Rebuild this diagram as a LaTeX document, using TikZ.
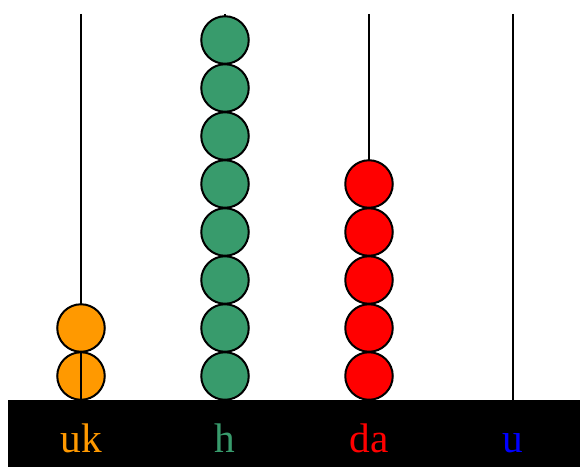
\documentclass[tikz,border=0pt]{standalone}
\usepackage{fontspec}
\setmainfont{Liberation Serif}
\definecolor{beadorange}{RGB}{255,153,0}
\definecolor{beadgreen}{RGB}{56,155,108}
\definecolor{beadred}{RGB}{255,0,0}
\definecolor{labelblue}{RGB}{0,0,255}
\begin{document}
\begin{tikzpicture}[x=0.75pt,y=-0.75pt,
  rod/.style={line width=1.2pt},
  bead/.style={circle,draw=black,line width=1.5pt,minimum size=47.5*0.75pt,inner sep=0pt},
  lbl/.style={font=\fontsize{31}{33}\selectfont,anchor=base}]
\useasboundingbox (0,0) rectangle (580,467);
% base
\fill[black] (8,400) rectangle (580,467);
% rods
\foreach \n/\x in {a/81,b/225,c/369,d/513}{
  \coordinate (top\n) at (\x,14);
  \coordinate (bot\n) at (\x,400);
  \draw[rod] (top\n) -- (bot\n);
}
% orange beads
\foreach \i in {1,2}{
  \node[bead,fill=beadorange] (o\i) at (81,{400-24-48*(\i-1)}) {};
}
\draw[rod] (o1.north) -- (o1.south);
% green beads
\foreach \i in {1,...,8}{
  \node[bead,fill=beadgreen] (g\i) at (225,{400-24-48*(\i-1)}) {};
}
% red beads
\foreach \i in {1,...,5}{
  \node[bead,fill=beadred] (r\i) at (369,{400-24-48*(\i-1)}) {};
}
% labels
\node[lbl,text=beadorange] (la) at (81,452) {uk};
\node[lbl,text=beadgreen] (lb) at (225,452) {h};
\node[lbl,text=beadred] (lc) at (369,452) {da};
\node[lbl,text=labelblue] (ld) at (513,452) {u};
\end{tikzpicture}
\end{document}
